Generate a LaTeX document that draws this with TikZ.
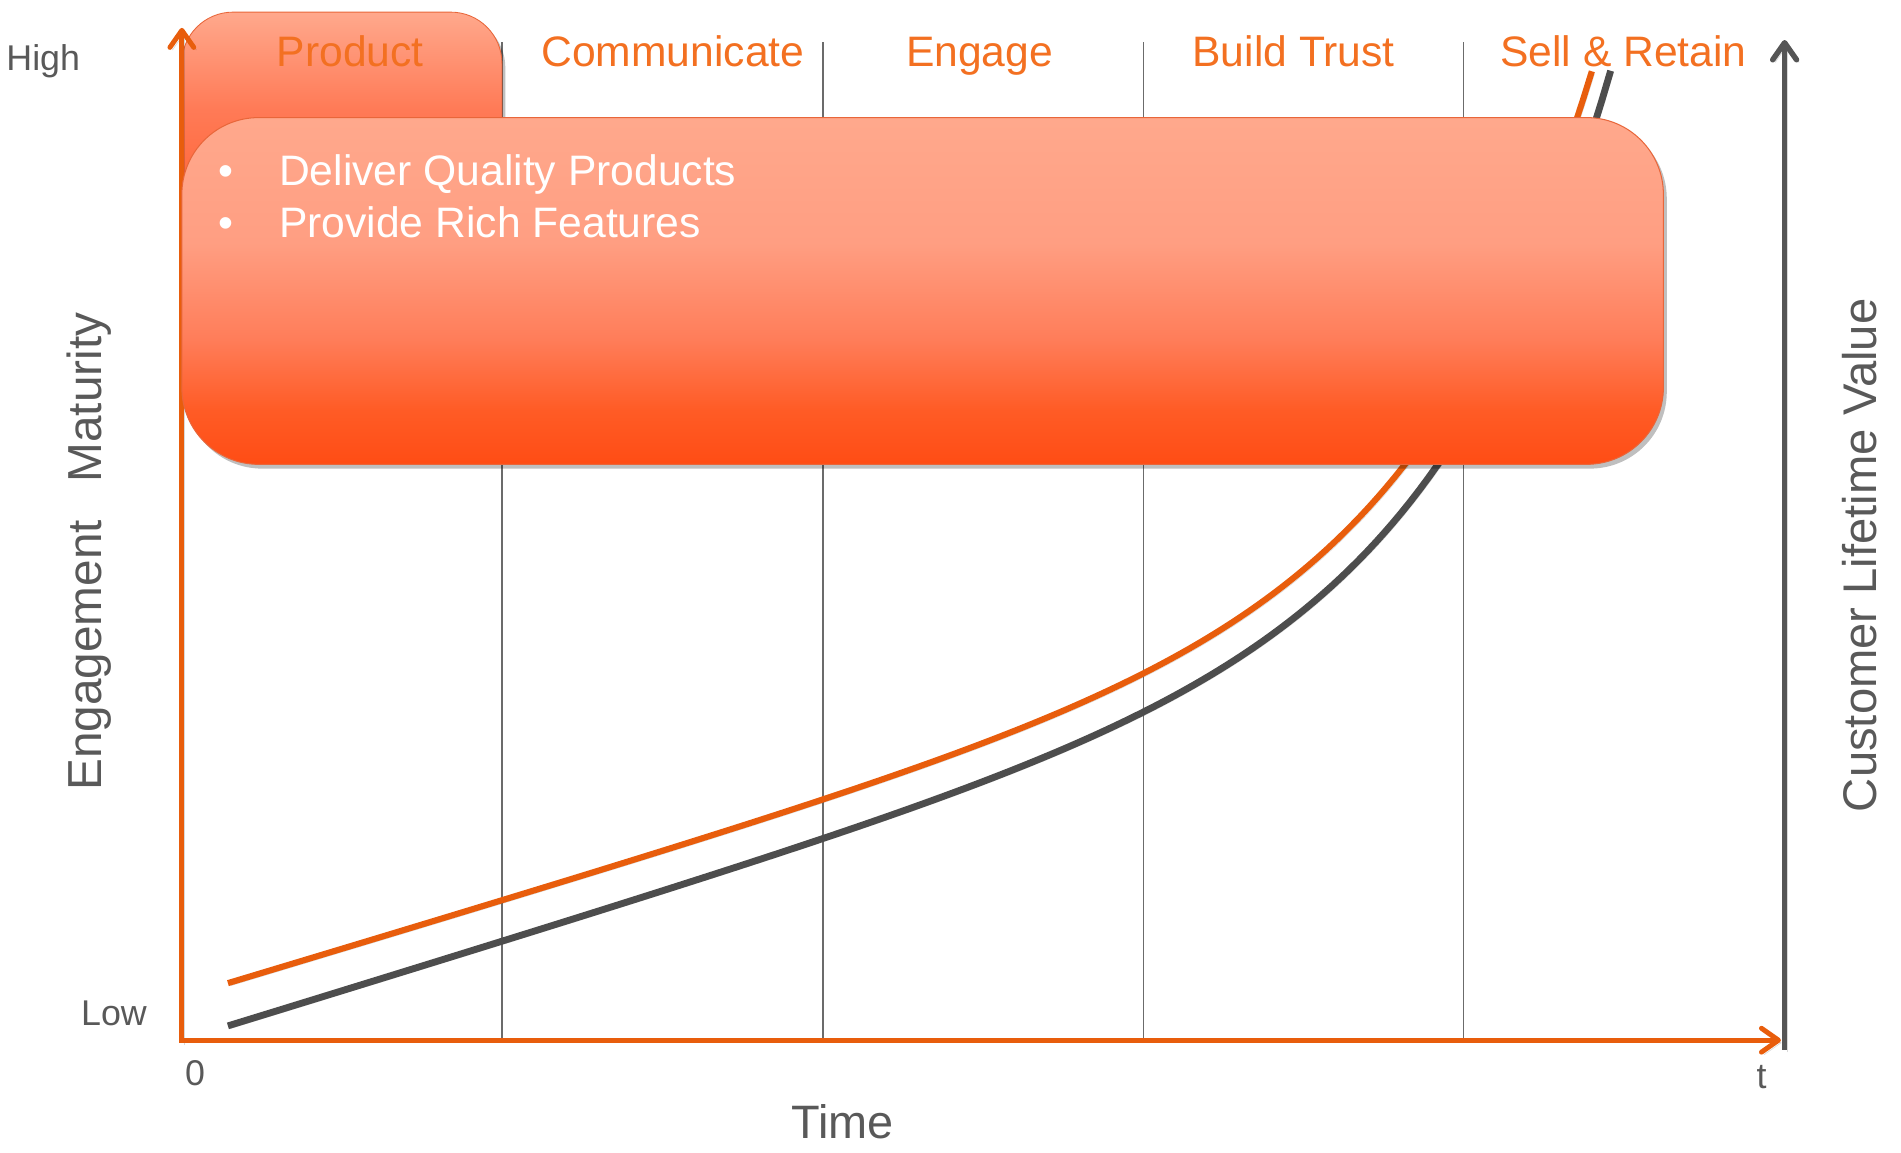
\documentclass[tikz,border=0pt]{standalone}
\usepackage{fontspec}
\setmainfont{Liberation Sans}
\usetikzlibrary{arrows.meta,shadows}
\definecolor{axisorange}{HTML}{E85D0C}
\definecolor{headorange}{HTML}{F37021}
\definecolor{txtgray}{HTML}{595959}
\definecolor{curvegray}{HTML}{4D4D4D}
\definecolor{divgray}{HTML}{6B6B6B}
\definecolor{rightgray}{HTML}{555555}
\definecolor{boxedge}{HTML}{E8663A}
\pgfdeclareverticalshading{boxshade}{100bp}{rgb(0bp)=(1,0.30,0.08); rgb(25bp)=(1,0.30,0.08); rgb(33bp)=(1,0.36,0.15); rgb(43bp)=(1,0.49,0.35); rgb(57bp)=(1,0.62,0.51); rgb(75bp)=(1,0.66,0.55); rgb(100bp)=(1,0.66,0.55)}
\pgfdeclareverticalshading{tabshade}{100bp}{rgb(0bp)=(1,0.36,0.16); rgb(25bp)=(1,0.36,0.16); rgb(54bp)=(1,0.48,0.34); rgb(75bp)=(1,0.66,0.55); rgb(100bp)=(1,0.66,0.55)}
\begin{document}
\begin{tikzpicture}[x=0.025cm,y=-0.025cm,
  lbl/.style={font=\fontsize{21}{25}\selectfont, text=txtgray, inner sep=0pt, anchor=base},
  head/.style={font=\fontsize{25}{30}\selectfont, text=headorange, inner sep=0pt, anchor=base},
  axtitle/.style={font=\fontsize{28}{33}\selectfont, text=txtgray, inner sep=0pt, rotate=90, anchor=base},
  bul/.style={font=\fontsize{25}{30}\selectfont, text=white, inner sep=0pt, anchor=base west},
  divider/.style={draw=divgray, line width=0.9pt},
  softshadow/.style={preaction={draw=black, draw opacity=0.15, transform canvas={shift={(1.5pt,-1.5pt)}}}},
  oaxis/.style={draw=axisorange, line width=2.9pt, softshadow},
  gaxis/.style={draw=rightgray, line width=3.2pt, softshadow},
  arrowtip/.style={-{Straight Barb[length=10pt,width=14pt,round]}},
  ocurve/.style={draw=axisorange, line width=3.6pt, softshadow},
  gcurve/.style={draw=curvegray, line width=4pt, softshadow},
  boxshadow/.style={drop shadow={shadow xshift=2pt, shadow yshift=-2.5pt, opacity=0.25, fill=black}},
]
\useasboundingbox (0,0) rectangle (1568,951);

% dividers
\foreach \i/\x in {1/414,2/679,3/943,4/1207}{
  \coordinate (d\i t) at (\x,35);
  \coordinate (d\i b) at (\x,858);
  \draw[divider] (d\i t) -- (d\i b);
}

% curves
\draw[ocurve] plot[domain=188:1313, samples=160, variable=\t] (\t, {867.5 - 0.3003*\t - exp(0.0072*\t - 3.4296)});
\draw[gcurve] plot[domain=188:1328.5, samples=160, variable=\t] (\t, {904.0 - 0.3069*\t - exp(0.0072*\t - 3.486)});

% product tab
\path[shade, shading=tabshade, draw=boxedge, line width=0.5pt, boxshadow]
  (150,200) [rounded corners=30] -- (150,10) -- (414,10) [sharp corners] -- (414,200) -- cycle;

% axes
\coordinate (O) at (150,860);
\coordinate (Ytop) at (150,23);
\coordinate (Xstart) at (148,858);
\coordinate (Xend) at (1469,858);
\coordinate (Rbot) at (1472,866);
\coordinate (Rtop) at (1472,33);
\draw[oaxis, arrowtip] (O) -- (Ytop);
\draw[oaxis, arrowtip] (Xstart) -- (Xend);
\draw[gaxis, arrowtip] (Rbot) -- (Rtop);

% main box
\coordinate (boxNW) at (150,97);
\coordinate (boxSE) at (1372,383);
\path[shade, shading=boxshade, draw=boxedge, line width=0.6pt, rounded corners=45, boxshadow] (boxNW) rectangle (boxSE);

% bullets
\node[font=\fontsize{25}{30}\selectfont, text=white, inner sep=0pt, anchor=base] (b1) at (186,152.6) {\textbullet};
\node[bul] (t1) at (230,152.6) {Deliver Quality Products};
\node[font=\fontsize{25}{30}\selectfont, text=white, inner sep=0pt, anchor=base] (b2) at (186,195.6) {\textbullet};
\node[bul] (t2) at (230,195.6) {Provide Rich Features};

% headers
\node[head] (h1) at (289,54.6) {Product};
\node[head] (h2) at (555,54.6) {Communicate};
\node[head] (h3) at (808,54.6) {Engage};
\node[head] (h4) at (1067,54.6) {Build Trust};
\node[head] (h5) at (1339,54.6) {Sell \& Retain};

% axis labels
\node[lbl, anchor=base west] (high) at (5,58.5) {High};
\node[lbl] (low) at (94,845.5) {Low};
\node[lbl] (zero) at (161,895.5) {0};
\node[lbl] (tt) at (1453,898) {t};
\node[font=\fontsize{27.5}{32}\selectfont, text=txtgray, inner sep=0pt, anchor=base] (time) at (695,939) {Time};
\node[axtitle] (eng) at (84,455) {Engagement\hspace{22pt}Maturity};
\node[axtitle, font=\fontsize{27.7}{32}\selectfont] (clv) at (1548,458) {Customer Lifetime Value};
\end{tikzpicture}
\end{document}
